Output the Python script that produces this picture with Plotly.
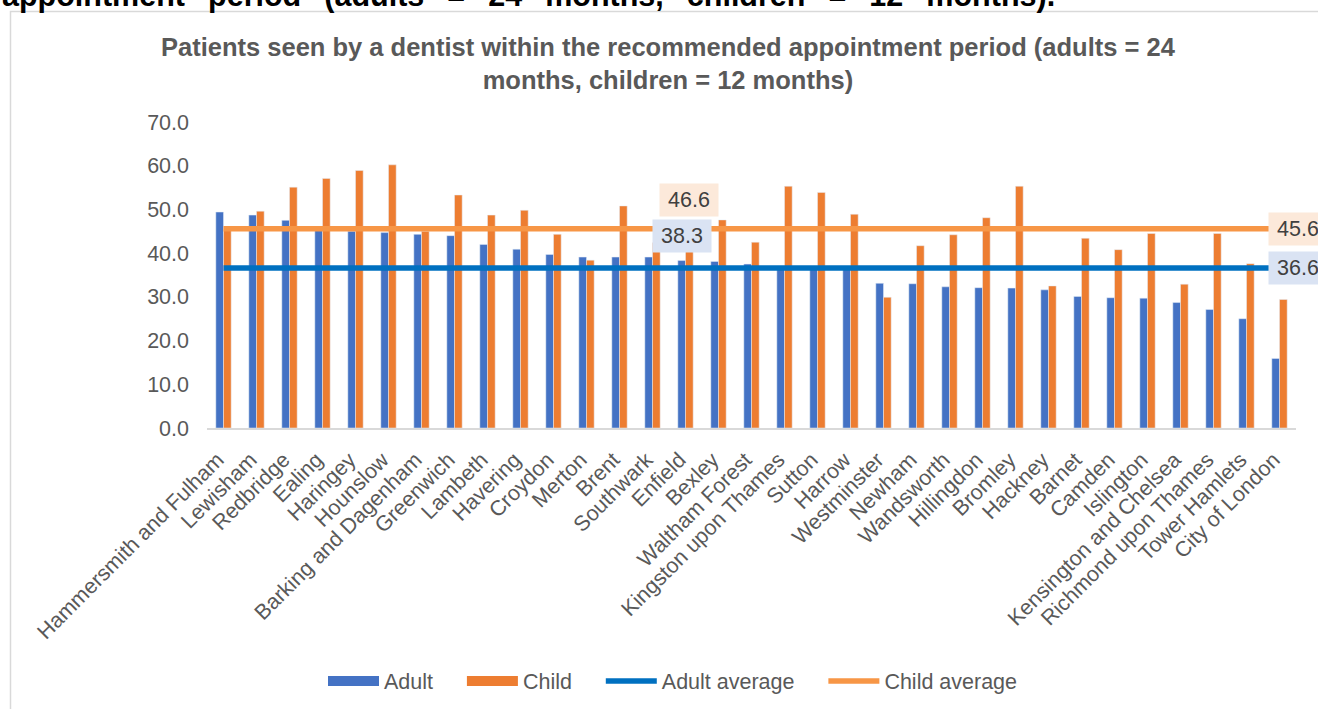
import plotly.graph_objects as go

# London boroughs, ordered by the adult rate
boroughs = [
    "Hammersmith and Fulham", "Lewisham", "Redbridge", "Ealing", "Haringey",
    "Hounslow", "Barking and Dagenham", "Greenwich", "Lambeth", "Havering",
    "Croydon", "Merton", "Brent", "Southwark", "Enfield", "Bexley",
    "Waltham Forest", "Kingston upon Thames", "Sutton", "Harrow",
    "Westminster", "Newham", "Wandsworth", "Hillingdon", "Bromley",
    "Hackney", "Barnet", "Camden", "Islington", "Kensington and Chelsea",
    "Richmond upon Thames", "Tower Hamlets", "City of London",
]

# % of patients seen within the recommended period
adult = [
    49.4, 48.7, 47.5, 45.3, 45.0, 44.7, 44.3, 44.0, 42.0, 40.9,
    39.7, 39.1, 39.1, 39.1, 38.3, 38.1, 37.5, 37.0, 36.9, 36.8,
    33.1, 33.0, 32.3, 32.1, 32.0, 31.6, 30.1, 29.8, 29.7, 28.7,
    27.1, 25.0, 15.9,
]
child = [
    45.5, 49.6, 55.1, 57.1, 58.9, 60.2, 45.0, 53.3, 48.7, 49.8,
    44.3, 38.4, 50.8, 42.4, 46.6, 47.6, 42.5, 55.3, 53.9, 48.9,
    29.9, 41.7, 44.2, 48.1, 55.3, 32.5, 43.4, 40.8, 44.5, 32.9,
    44.5, 37.6, 29.4,
]

adult_average = 36.6
child_average = 45.6
highlight = "Enfield"

y_ticks = [0, 10, 20, 30, 40, 50, 60, 70]

W, H = 1318, 709
L, R, T, B = 207, 22, 122, 281
PW, PH = W - L - R, H - T - B

def px_x(px):
    return (px - L) / PW

def px_y(py):
    return (H - B - py) / PH

BLUE, ORANGE = "#4472C4", "#ED7D31"
AVG_BLUE, AVG_ORANGE = "#0070C0", "#F79646"
GREY_TEXT = "#595959"
FONT = "Arial, Liberation Sans, sans-serif"
NB = "\u00a0"

fig = go.Figure()

fig.add_trace(go.Bar(x=boroughs, y=adult, name="Adult", marker_color=BLUE,
                     showlegend=False, legendgroup="adult"))
fig.add_trace(go.Bar(x=boroughs, y=child, name="Child", marker_color=ORANGE,
                     showlegend=False, legendgroup="child"))

fig.add_trace(go.Scatter(x=boroughs, y=[adult_average] * len(boroughs),
                         mode="lines", name="Adult average",
                         line=dict(color=AVG_BLUE, width=5.5), showlegend=False,
                         legendgroup="adultavg"))
fig.add_trace(go.Scatter(x=boroughs, y=[child_average] * len(boroughs),
                         mode="lines", name="Child average",
                         line=dict(color=AVG_ORANGE, width=5.5), showlegend=False,
                         legendgroup="childavg"))

# legend keys (wide swatches for the bar series)
legend_keys = [
    ("Adult" + NB * 4, BLUE, 12, "adult"),
    ("Child" + NB * 4, ORANGE, 12, "child"),
    ("Adult average" + NB * 4, AVG_BLUE, 5.5, "adultavg"),
    ("Child average", AVG_ORANGE, 5.5, "childavg"),
]
for name, color, width, group in legend_keys:
    fig.add_trace(go.Scatter(x=[boroughs[0]], y=[None], mode="lines", name=name,
                             line=dict(color=color, width=width),
                             legendgroup=group, showlegend=True,
                             hoverinfo="skip"))

annotations = []

# page text above the chart (justified paragraph spacing)
gap = " " + NB + "\u2009"
page_text = gap.join("appointment period (adults = 24 months, children = 12 months).".split(" "))
annotations.append(dict(
    text=f"<b>{page_text}</b>",
    xref="paper", yref="paper", x=px_x(0), y=px_y(15.5),
    xanchor="left", yanchor="bottom", showarrow=False,
    font=dict(family=FONT, size=30.5, color="#000000"),
))

# chart title
annotations.append(dict(
    text="<b>Patients seen by a dentist within the recommended appointment period (adults = 24</b><br>"
         "<b>months, children = 12 months)</b>",
    xref="paper", yref="paper", x=px_x(668), y=px_y(63),
    xanchor="center", yanchor="middle", showarrow=False,
    font=dict(family=FONT, size=25.5, color=GREY_TEXT),
))

label_font = dict(family=FONT, size=21.5, color="#404040")
ADULT_BG, CHILD_BG = "#DAE3F3", "#FCE9DA"

# average labels at the right end of the lines
for val, bg in [(child_average, CHILD_BG), (adult_average, ADULT_BG)]:
    annotations.append(dict(
        text=f"{val:.1f}", x=boroughs[-1], y=val, xref="x", yref="y",
        xanchor="left", yanchor="middle", xshift=-11.5, showarrow=False,
        width=58, height=32, borderpad=0, bgcolor=bg, font=label_font,
    ))

# value labels for the highlighted borough
i = boroughs.index(highlight)
for val, bg, dx in [(child[i], CHILD_BG, 3.85), (adult[i], ADULT_BG, -3.85)]:
    annotations.append(dict(
        text=f"{val:.1f}", x=highlight, y=val, xref="x", yref="y",
        xanchor="center", yanchor="bottom", xshift=dx, yshift=7.4,
        showarrow=False, width=58, height=32, borderpad=0, bgcolor=bg,
        font=label_font,
    ))

# chart area border (top and left edges visible)
frame = dict(
    type="path", xref="paper", yref="paper",
    path=f"M {px_x(10.5)},{px_y(720)} L {px_x(10.5)},{px_y(11.5)} L {px_x(1330)},{px_y(11.5)}",
    line=dict(color="#D9D9D9", width=1.5),
)

fig.update_layout(
    width=W, height=H,
    margin=dict(l=L, r=R, t=T, b=B, autoexpand=False),
    paper_bgcolor="white", plot_bgcolor="white",
    barmode="group", bargap=0.535, bargroupgap=0,
    font=dict(family=FONT, size=21.5, color=GREY_TEXT),
    showlegend=True,
    legend=dict(
        orientation="h", x=px_x(673), y=px_y(681),
        xanchor="center", yanchor="middle",
        font=dict(family=FONT, size=21.5, color=GREY_TEXT),
        itemwidth=51, bgcolor="rgba(0,0,0,0)",
    ),
    xaxis=dict(
        type="category", categoryorder="array", categoryarray=boroughs,
        range=[-0.5, len(boroughs) - 0.5],
        showline=True, linecolor="#D9D9D9", linewidth=1.5,
        showgrid=False, ticks="", tickangle=-45,
        ticklabelstandoff=9, ticklabelshift=-6,
        tickfont=dict(family=FONT, size=21.5, color=GREY_TEXT),
    ),
    yaxis=dict(
        range=[0, 70], tickvals=y_ticks, tickformat=".1f",
        showgrid=False, zeroline=False, showline=False, ticks="",
        ticklabelstandoff=17,
        tickfont=dict(family=FONT, size=21.5, color=GREY_TEXT),
    ),
    annotations=annotations,
    shapes=[frame],
)

fig.write_html("out.html")
